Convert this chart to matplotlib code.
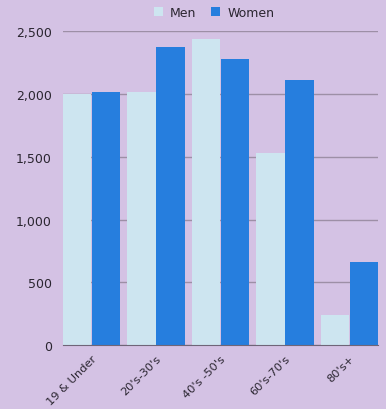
import matplotlib
matplotlib.use("Agg")
import matplotlib.pyplot as plt
import numpy as np
from matplotlib.ticker import FuncFormatter

categories = ["19 & Under", "20's-30's", "40's -50's", "60's-70's", "80's+"]
men = [1998, 2016, 2436, 1530, 239]
women = [2019, 2376, 2276, 2112, 661]

bg = "#D4C2E4"
men_c = "#CDE5F0"
women_c = "#267EDE"

fig = plt.figure(figsize=(3.86, 4.10), dpi=100, facecolor=bg)
ax = fig.add_axes([63/386, 64/410, 315/386, (346-32.3)/410])
ax.set_facecolor(bg)

x = np.arange(len(categories))
w = 0.44
gap = 0.008
ax.bar(x - w/2 - gap/2, men, width=w, color=men_c, label="Men", zorder=2)
ax.bar(x + w/2 + gap/2, women, width=w, color=women_c, label="Women", zorder=2)

half = w + gap/2
ax.set_xlim(-half, len(categories) - 1 + half)
ax.set_ylim(0, 2500)
ax.set_yticks(np.arange(0, 2501, 500))
ax.yaxis.set_major_formatter(FuncFormatter(lambda v, p: f"{int(v):,}"))
ax.grid(axis="y", color="#9D8FA6", linewidth=1.0, zorder=0)
ax.set_axisbelow(True)
for s in ["left", "right", "top"]:
    ax.spines[s].set_visible(False)
ax.spines["bottom"].set_color("#6F6578")
ax.tick_params(axis="y", length=0, labelsize=9, colors="#2A2530", pad=8)
ax.tick_params(axis="x", length=0, labelsize=8.2, colors="#2A2530", pad=6)
ax.set_xticks(x)
ax.set_xticklabels(categories, rotation=45, ha="right", rotation_mode="anchor")

leg = fig.legend(loc="upper center", bbox_to_anchor=(0.555, 1.01), ncol=2, frameon=False,
                 fontsize=9, handlelength=0.7, handleheight=0.7, handletextpad=0.6,
                 columnspacing=1.2, labelcolor="#2A2530")
fig.savefig("out.png", dpi=100, facecolor=bg)
